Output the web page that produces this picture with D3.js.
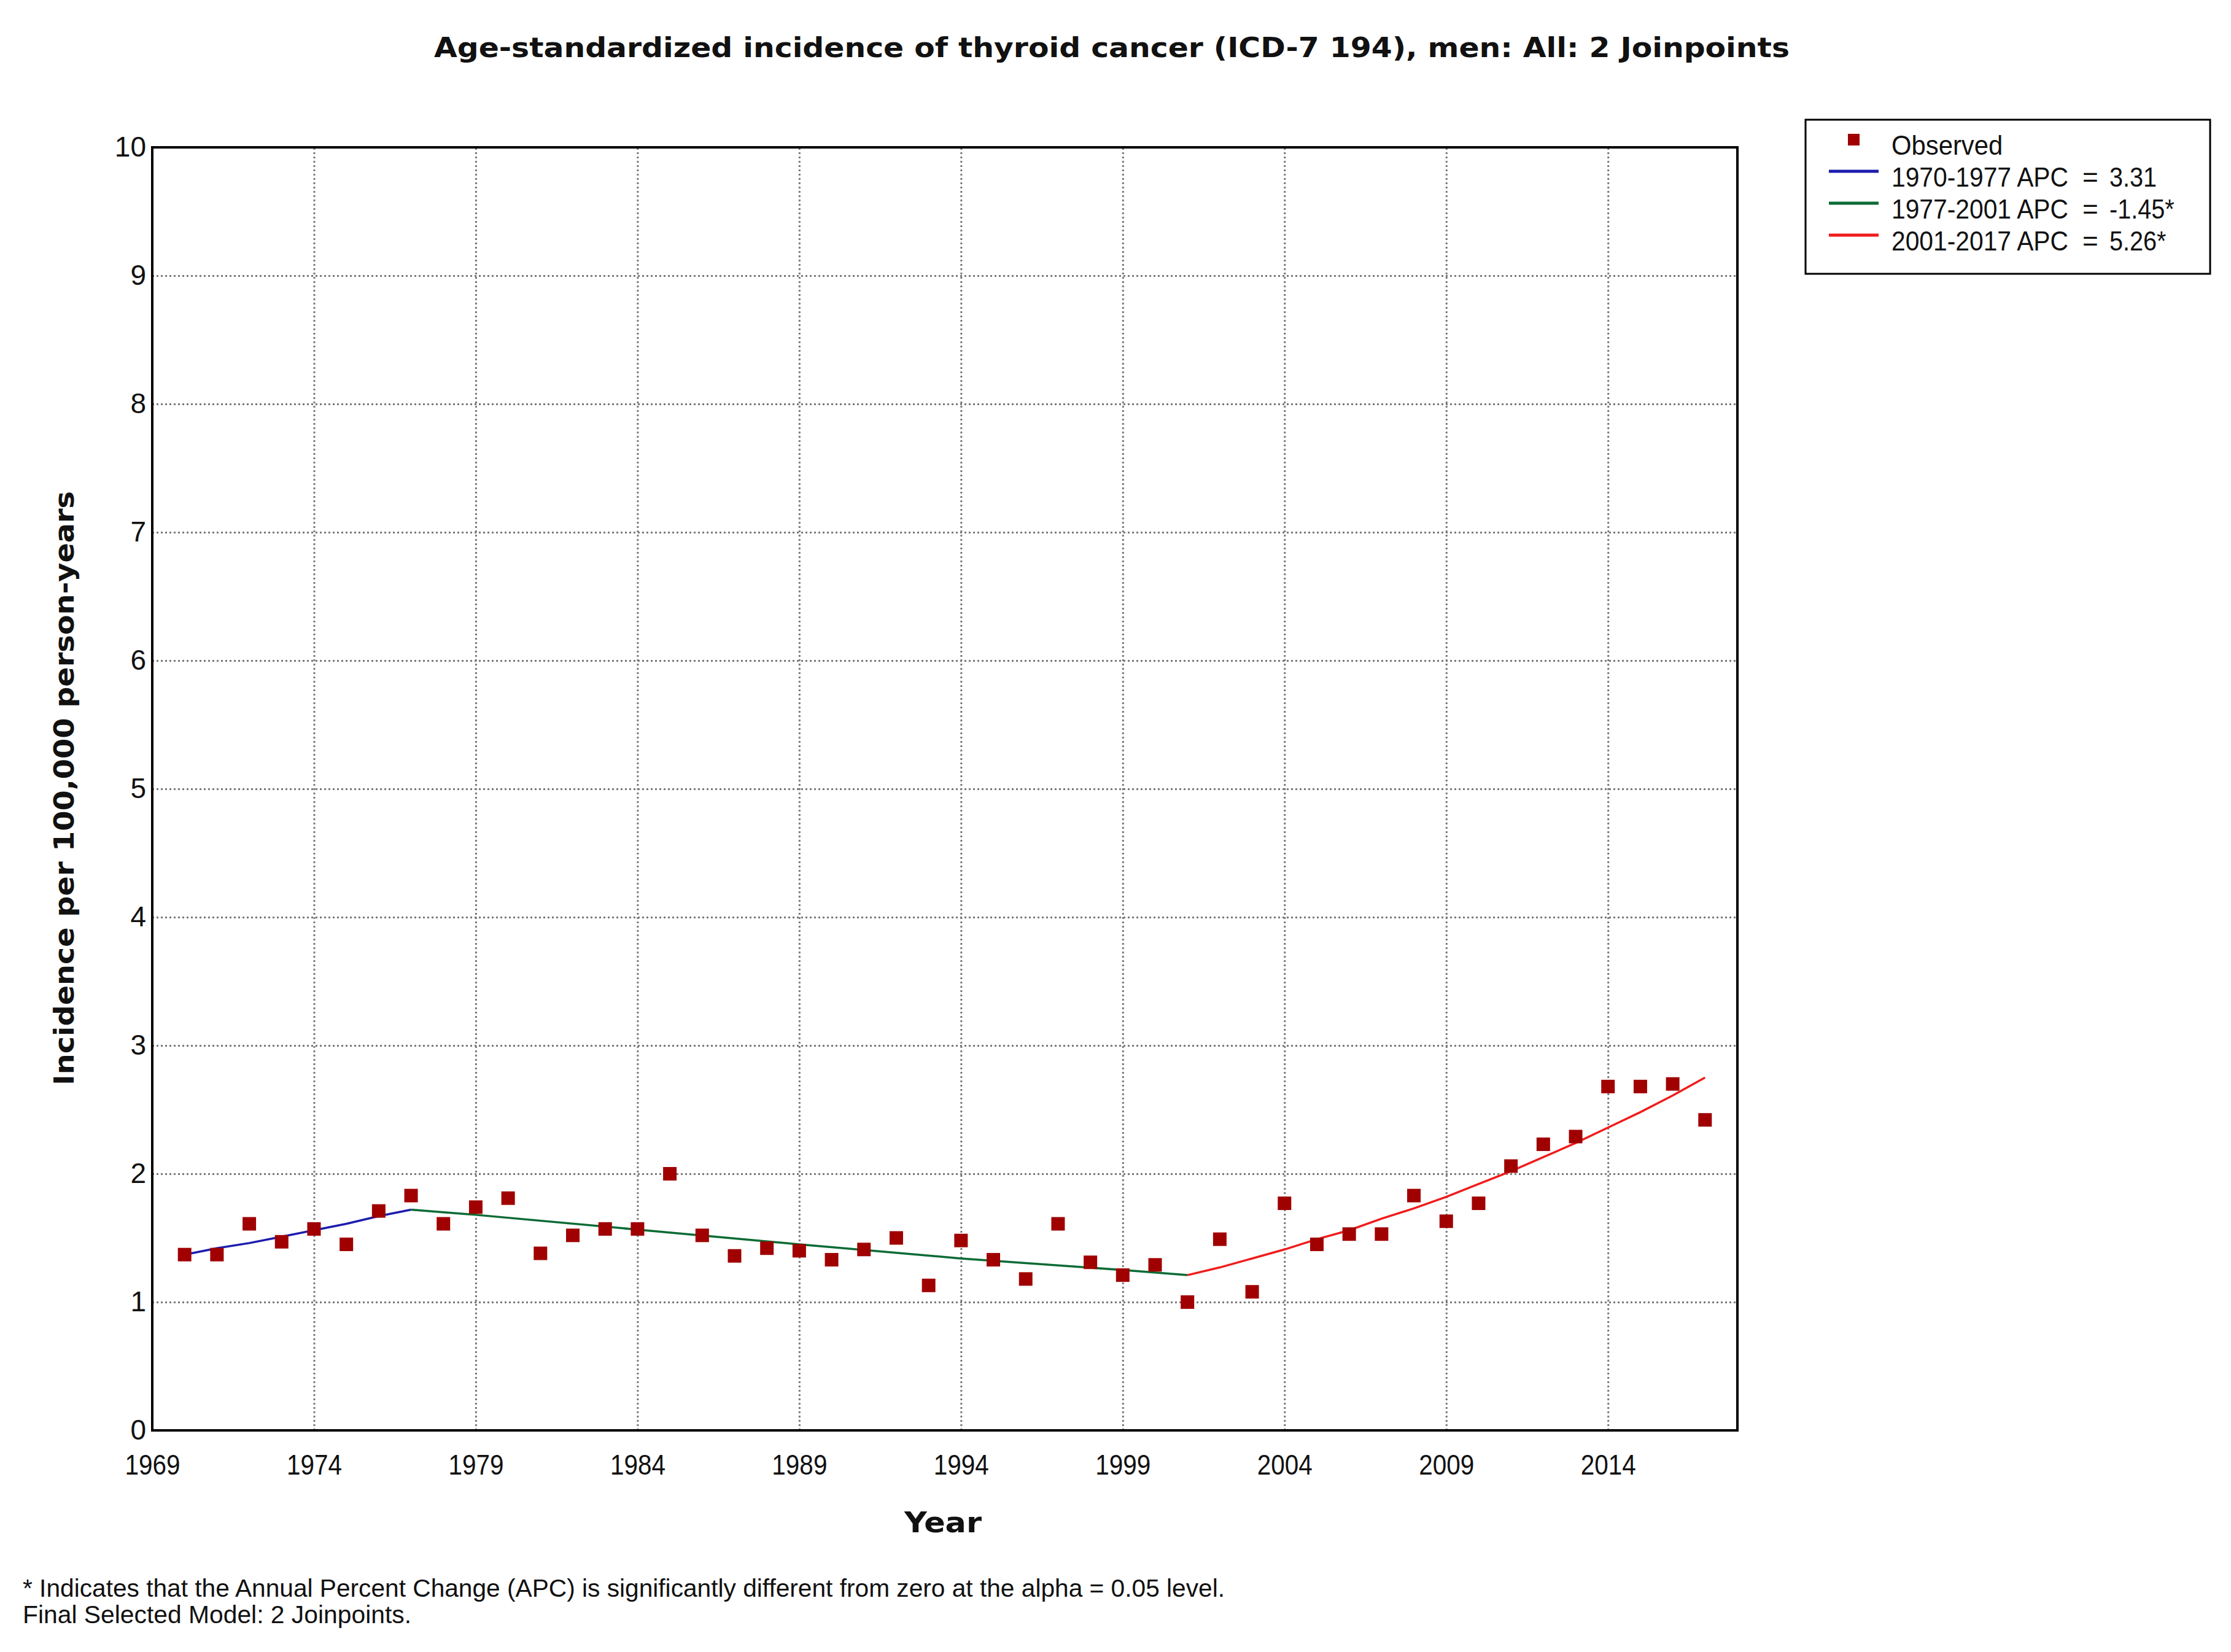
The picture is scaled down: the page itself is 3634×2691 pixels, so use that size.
<!DOCTYPE html>
<html>
<head>
<meta charset="utf-8">
<script src="https://d3js.org/d3.v7.min.js"></script>
<style>
  body { margin: 0; background: #fff; }
  text { fill: #111; }
</style>
</head>
<body>
<svg id="chart" width="3634" height="2691"></svg>
<script>
// observed incidence, 1970-2017
const years = d3.range(1970, 2018);
const observed = [1.37, 1.37, 1.61, 1.47, 1.57, 1.45, 1.71, 1.83, 1.61, 1.74,
                  1.81, 1.38, 1.52, 1.57, 1.57, 2.00, 1.52, 1.36, 1.42, 1.40,
                  1.33, 1.41, 1.50, 1.13, 1.48, 1.33, 1.18, 1.61, 1.31, 1.21,
                  1.29, 1.00, 1.49, 1.08, 1.77, 1.45, 1.53, 1.53, 1.83, 1.63,
                  1.77, 2.06, 2.23, 2.29, 2.68, 2.68, 2.70, 2.42];

// modelled segments
const blueYears = [1970, 1971, 1972, 1973, 1974, 1975, 1976, 1977];
const blueFit = [1.37, 1.42, 1.46, 1.51, 1.56, 1.61, 1.67, 1.72];
const greenYears = [1977, 1979, 1984, 1989, 1994, 1999, 2001];
const greenFit = [1.72, 1.68, 1.565, 1.45, 1.34, 1.25, 1.21];
const redYears = [2001, 2002, 2003, 2004, 2005, 2006, 2007, 2008, 2009,
                  2010, 2011, 2012, 2013, 2014, 2015, 2016, 2017];
const redFit = [1.21, 1.27, 1.34, 1.41, 1.49, 1.56, 1.65, 1.73, 1.82,
                1.92, 2.02, 2.13, 2.24, 2.36, 2.48, 2.61, 2.75];

const xTicks = [1969, 1974, 1979, 1984, 1989, 1994, 1999, 2004, 2009, 2014];
const yTicks = [0, 1, 2, 3, 4, 5, 6, 7, 8, 9, 10];

const legendLabels = ["1970-1977 APC", "1977-2001 APC", "2001-2017 APC"];
const legendValues = ["3.31", "-1.45*", "5.26*"];
const segColors = ["#1c1cae", "#0b6b35", "#f01c1c"];

const svg = d3.select("#chart");
const L = 248, R = 2830, T = 240, B = 2330;
const sans = "'Liberation Sans', Arial, sans-serif";
const bold = "'DejaVu Sans', Verdana, sans-serif";

const x = d3.scaleLinear().domain([1969, 2018]).range([L, R]);
const y = d3.scaleLinear().domain([0, 10]).range([B, T]);

// squeeze text horizontally (source font is narrower than ours)
function squeeze(sel, k) {
  sel.each(function() {
    const len = this.getComputedTextLength();
    d3.select(this).attr("textLength", len * k).attr("lengthAdjust", "spacingAndGlyphs");
  });
}

// grid + axes
const xAxis = svg.append("g")
  .attr("transform", `translate(0,${B})`)
  .call(d3.axisBottom(x).tickValues(xTicks).tickFormat(d3.format("d")).tickSize(-(B - T)));
const yAxis = svg.append("g")
  .attr("transform", `translate(${L},0)`)
  .call(d3.axisLeft(y).tickValues(yTicks).tickSize(-(R - L)).tickPadding(10));

[xAxis, yAxis].forEach(g => {
  g.select(".domain").remove();
  g.selectAll(".tick line")
    .attr("stroke", "#7a7a7a")
    .attr("stroke-width", 3)
    .attr("stroke-dasharray", "3,4");
  g.selectAll(".tick text")
    .attr("font-family", sans)
    .attr("font-size", 46)
    .attr("fill", "#111");
});
xAxis.selectAll(".tick text").attr("y", 72).attr("dy", 0);
yAxis.selectAll(".tick text").attr("x", -10).attr("dy", "0.32em");
squeeze(xAxis.selectAll(".tick text"), 0.88);

// fitted segments
const line = d3.line().x(d => x(d[0])).y(d => y(d[1]));
const segs = [d3.zip(blueYears, blueFit), d3.zip(greenYears, greenFit), d3.zip(redYears, redFit)];
svg.append("g").selectAll("path")
  .data(segs)
  .enter()
  .append("path")
  .attr("d", line)
  .attr("fill", "none")
  .attr("stroke", (d, i) => segColors[i])
  .attr("stroke-width", 3.5);

// observed markers
const ms = 22;
svg.append("g").selectAll("rect")
  .data(d3.zip(years, observed))
  .enter()
  .append("rect")
  .attr("x", d => x(d[0]) - ms / 2)
  .attr("y", d => y(d[1]) - ms / 2)
  .attr("width", ms)
  .attr("height", ms)
  .attr("fill", "#a00000");

// frame
svg.append("rect")
  .attr("x", L).attr("y", T)
  .attr("width", R - L).attr("height", B - T)
  .attr("fill", "none")
  .attr("stroke", "#000")
  .attr("stroke-width", 4);

// titles
svg.append("text")
  .attr("x", 1811).attr("y", 93)
  .attr("text-anchor", "middle")
  .attr("font-family", bold).attr("font-weight", "bold").attr("font-size", 45)
  .attr("textLength", 2208).attr("lengthAdjust", "spacingAndGlyphs")
  .text("Age-standardized incidence of thyroid cancer (ICD-7 194), men: All: 2 Joinpoints");

svg.append("text")
  .attr("transform", "translate(120,1284) rotate(-90)")
  .attr("text-anchor", "middle")
  .attr("font-family", bold).attr("font-weight", "bold").attr("font-size", 44)
  .attr("textLength", 968).attr("lengthAdjust", "spacingAndGlyphs")
  .text("Incidence per 100,000 person-years");

svg.append("text")
  .attr("x", 1536).attr("y", 2496)
  .attr("text-anchor", "middle")
  .attr("font-family", bold).attr("font-weight", "bold").attr("font-size", 47)
  .attr("textLength", 126).attr("lengthAdjust", "spacingAndGlyphs")
  .text("Year");

// footnotes
svg.append("text")
  .attr("x", 37).attr("y", 2601)
  .attr("font-family", sans).attr("font-size", 40)
  .attr("textLength", 1958).attr("lengthAdjust", "spacingAndGlyphs")
  .text("* Indicates that the Annual Percent Change (APC) is significantly different from zero at the alpha = 0.05 level.");
svg.append("text")
  .attr("x", 37).attr("y", 2644)
  .attr("font-family", sans).attr("font-size", 40)
  .attr("textLength", 633).attr("lengthAdjust", "spacingAndGlyphs")
  .text("Final Selected Model: 2 Joinpoints.");

// legend
const lg = svg.append("g");
lg.append("rect")
  .attr("x", 2941).attr("y", 195)
  .attr("width", 659).attr("height", 251)
  .attr("fill", "#fff")
  .attr("stroke", "#000")
  .attr("stroke-width", 3);
lg.append("rect")
  .attr("x", 3010).attr("y", 218)
  .attr("width", 19).attr("height", 19)
  .attr("fill", "#a00000");
lg.append("text")
  .attr("x", 3081).attr("y", 252)
  .attr("font-family", sans).attr("font-size", 44)
  .text("Observed")
  .call(squeeze, 0.95);

const rows = lg.selectAll(".row")
  .data(legendLabels)
  .enter()
  .append("g")
  .attr("class", "row")
  .attr("transform", (d, i) => `translate(0,${304 + i * 52})`);
rows.append("line")
  .attr("x1", 2979).attr("x2", 3060)
  .attr("y1", -25).attr("y2", -25)
  .attr("stroke", (d, i) => segColors[i])
  .attr("stroke-width", 5);
rows.append("text")
  .attr("x", 3081)
  .attr("font-family", sans).attr("font-size", 44)
  .attr("textLength", 288).attr("lengthAdjust", "spacingAndGlyphs")
  .text(d => d);
rows.append("text")
  .attr("x", 3392)
  .attr("font-family", sans).attr("font-size", 44)
  .text("=");
rows.append("text")
  .attr("x", 3436)
  .attr("font-family", sans).attr("font-size", 44)
  .text((d, i) => legendValues[i])
  .call(squeeze, 0.9);
</script>
</body>
</html>
